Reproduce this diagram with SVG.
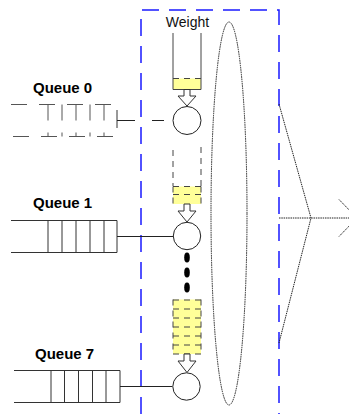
<svg xmlns="http://www.w3.org/2000/svg" width="349" height="414" viewBox="0 0 349 414">
<style>
.lbl{font-family:"Liberation Sans",Arial,sans-serif;font-weight:bold;font-size:15px;fill:#000}
.wlbl{font-family:"Liberation Sans",Arial,sans-serif;font-size:14px;fill:#111}
.q{stroke:#333;stroke-width:1;fill:none}
.qd{stroke:#555;stroke-width:1;fill:none;stroke-dasharray:16 12}
.conn{stroke:#222;stroke-width:1;fill:none}
.yel{fill:#ffff99;stroke:none}
.dsh{stroke:#444;stroke-width:1;fill:none;stroke-dasharray:6 5}
.bk{stroke:#444;stroke-width:1;fill:none}
.circ{fill:#fff;stroke:#222;stroke-width:1}
.arr{fill:#fff;stroke:#333;stroke-width:1}
.dot{stroke:#222;stroke-width:1;fill:none;stroke-dasharray:1.5 0.8}
.blue{stroke:#1a1aff;stroke-width:1.5;fill:none;stroke-dasharray:17 10}
</style>

<g id="boundary">
<path class="blue" d="M141,414 V10 H279 V414"/>
</g>

<g id="scheduler">
<ellipse class="dot" cx="229" cy="213.5" rx="18" ry="191.5"/>
</g>

<g id="output">
<path class="dot" d="M279,104 L311,218 L279,343"/>
<line class="dot" x1="279" y1="218" x2="349" y2="218"/>
<path class="dot" d="M339,199.5 L357,218 L339,236.5"/>
</g>

<g id="queue0">
<text class="lbl" x="33" y="93">Queue 0</text>
<line class="qd" x1="11" y1="104.5" x2="117" y2="104.5"/>
<line class="qd" x1="11" y1="136.5" x2="117" y2="136.5" stroke-dashoffset="-2"/>
<line class="qd" x1="48" y1="104.5" x2="48" y2="136.5"/>
<line class="qd" x1="62" y1="104.5" x2="62" y2="136.5"/>
<line class="qd" x1="76" y1="104.5" x2="76" y2="136.5"/>
<line class="qd" x1="90" y1="104.5" x2="90" y2="136.5"/>
<line class="qd" x1="104" y1="104.5" x2="104" y2="136.5"/>
<line class="q" x1="117" y1="110" x2="117" y2="128"/>
</g>

<g id="queue1">
<text class="lbl" x="33" y="208">Queue 1</text>
<line class="q" x1="11" y1="220.5" x2="117" y2="220.5"/>
<line class="q" x1="11" y1="252.5" x2="117" y2="252.5"/>
<path class="q" d="M48,220.5V252.5M62,220.5V252.5M76,220.5V252.5M90,220.5V252.5M104,220.5V252.5M117,220.5V252.5"/>
</g>

<g id="queue7">
<text class="lbl" x="35" y="359">Queue 7</text>
<line class="q" x1="14" y1="370.5" x2="120" y2="370.5"/>
<line class="q" x1="14" y1="402.5" x2="120" y2="402.5"/>
<path class="q" d="M51,370.5V402.5M64.5,370.5V402.5M78.5,370.5V402.5M92.5,370.5V402.5M106,370.5V402.5M120,370.5V402.5"/>
</g>

<g id="weight0">
<text class="wlbl" x="187.5" y="27" text-anchor="middle">Weight</text>
<rect class="yel" x="173" y="78.5" width="28" height="11"/>
<line class="bk" x1="173" y1="33" x2="173" y2="89.5"/>
<line class="bk" x1="201" y1="33" x2="201" y2="89.5"/>
<line class="dsh" x1="173" y1="78.5" x2="201" y2="78.5"/>
<line class="bk" x1="173" y1="89.5" x2="201" y2="89.5" stroke="#999"/>
<polygon class="arr" points="184,89.5 190,89.5 190,96 196,96 187,106 178,96 184,96"/>
</g>

<g id="weight1">
<line class="dsh" x1="173" y1="150" x2="173" y2="186"/>
<line class="dsh" x1="201" y1="147" x2="201" y2="186"/>
<rect class="yel" x="173" y="186.5" width="28" height="17.5"/>
<line class="dsh" x1="173" y1="186.5" x2="201" y2="186.5"/>
<line class="dsh" x1="173" y1="194.5" x2="201" y2="194.5"/>
<line class="dsh" x1="173" y1="186.5" x2="173" y2="204"/>
<line class="dsh" x1="201" y1="186.5" x2="201" y2="204"/>
<polygon class="arr" points="184,204 190,204 190,211 196,211 187,222 178,211 184,211"/>
</g>

<g id="ellipsis">
<ellipse cx="187" cy="257.5" rx="2.8" ry="5" fill="#000"/>
<ellipse cx="187" cy="272.5" rx="2.8" ry="5" fill="#000"/>
<ellipse cx="187" cy="287.5" rx="2.8" ry="5" fill="#000"/>
</g>

<g id="weight7">
<rect class="yel" x="173" y="299.5" width="28" height="54.5"/>
<line class="dsh" x1="173" y1="299.5" x2="173" y2="354"/>
<line class="dsh" x1="201" y1="299.5" x2="201" y2="354"/>
<path class="dsh" d="M173,300H201M173,309H201M173,318H201M173,327H201M173,336H201M173,345H201M173,354H201"/>
<polygon class="arr" points="184,354 190,354 190,361 196,361 187,372.5 178,361 184,361"/>
</g>

<g id="connectors">
<line class="conn" x1="117" y1="120.5" x2="135" y2="120.5"/>
<line class="conn" x1="152" y1="120.5" x2="164" y2="120.5"/>
<line class="conn" x1="117" y1="236.5" x2="173" y2="236.5"/>
<line class="conn" x1="120" y1="386.5" x2="172.5" y2="386.5"/>
</g>

<g id="sched0"><circle class="circ" cx="187" cy="120.5" r="14"/></g>
<g id="sched1"><circle class="circ" cx="187" cy="236" r="13.7"/></g>
<g id="sched7"><circle class="circ" cx="186.5" cy="386.5" r="13.7"/></g>
</svg>
